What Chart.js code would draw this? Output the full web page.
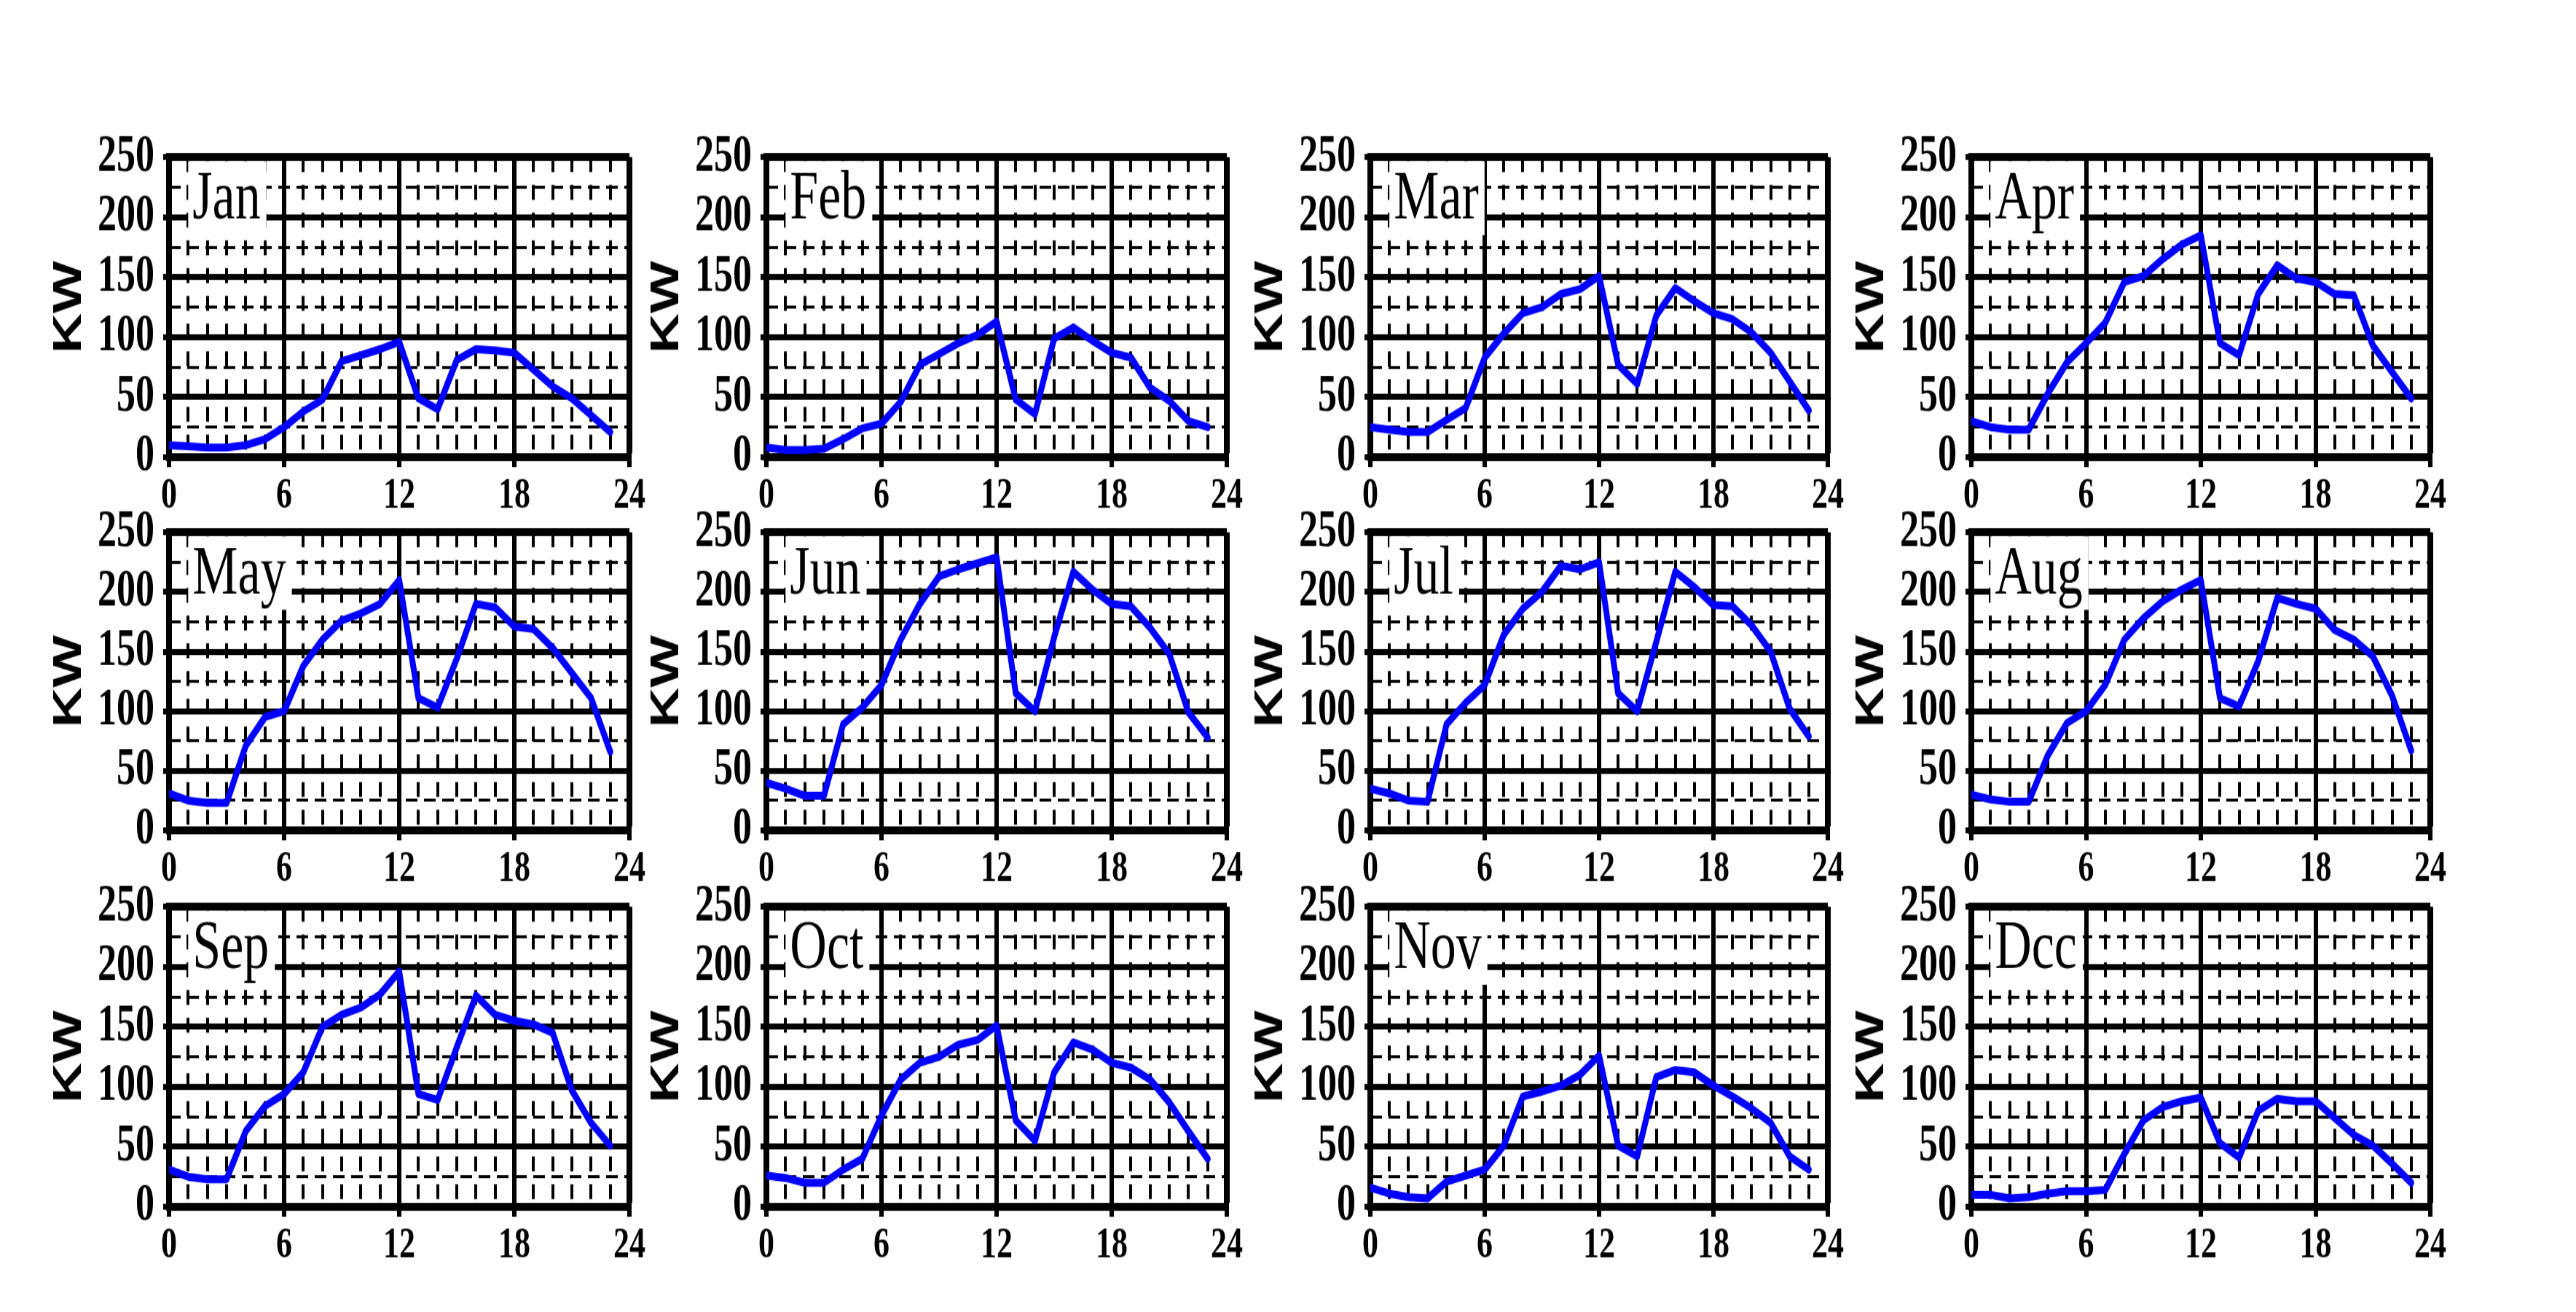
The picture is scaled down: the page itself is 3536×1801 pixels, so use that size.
<!DOCTYPE html>
<html>
<head>
<meta charset="utf-8">
<title>Daily load curves by month</title>
<script src="https://cdn.jsdelivr.net/npm/chart.js@4.4.0/dist/chart.umd.min.js"></script>
<style>
  html, body { margin: 0; padding: 0; background: #fff; }
  body { width: 3536px; height: 1801px; position: relative; overflow: hidden; }
  .panel { position: absolute; transform-origin: 0 0; }
  .panel canvas { display: block; }
</style>
</head>
<body>
<script>
// hourly load (KW)
const hours = [0, 1, 2, 3, 4, 5, 6, 7, 8, 9, 10, 11, 12, 13, 14, 15, 16, 17, 18, 19, 20, 21, 22, 23];
const months = ['Jan', 'Feb', 'Mar', 'Apr', 'May', 'Jun', 'Jul', 'Aug', 'Sep', 'Oct', 'Nov', 'Dcc'];
const xTicks = [0, 6, 12, 18, 24];
const yTicks = [0, 50, 100, 150, 200, 250];

const jan = [10, 9, 8, 8, 10, 15, 25, 38, 48, 80, 85, 90, 96, 49, 40, 81, 90, 89, 87, 73, 59, 49, 35, 21];
const feb = [8, 6, 6, 7, 15, 24, 28, 46, 77, 86, 95, 102, 113, 48, 36, 99, 108, 97, 87, 83, 58, 47, 30, 25];
const mar = [25, 23, 21, 21, 31, 41, 83, 103, 120, 125, 136, 140, 151, 77, 61, 118, 141, 130, 120, 115, 104, 87, 63, 39];
const apr = [30, 25, 23, 23, 53, 79, 95, 112, 146, 151, 165, 177, 185, 95, 85, 136, 160, 149, 146, 136, 135, 93, 71, 49];
const may = [31, 25, 23, 23, 71, 95, 100, 138, 160, 176, 182, 190, 210, 111, 103, 144, 190, 187, 171, 169, 153, 132, 111, 66];
const jun = [40, 35, 29, 29, 89, 103, 122, 160, 190, 213, 219, 224, 229, 115, 100, 162, 217, 202, 190, 188, 170, 148, 99, 78];
const jul = [35, 31, 25, 24, 89, 107, 122, 164, 186, 200, 222, 219, 225, 115, 100, 158, 217, 204, 189, 188, 172, 150, 102, 79];
const aug = [30, 26, 24, 24, 63, 90, 100, 122, 160, 178, 192, 202, 210, 111, 104, 142, 195, 190, 186, 168, 160, 146, 113, 67];
const sep = [31, 25, 23, 23, 63, 84, 94, 112, 150, 160, 166, 177, 196, 94, 89, 133, 176, 160, 155, 152, 145, 97, 70, 51];
const oct = [26, 24, 20, 20, 31, 40, 76, 106, 120, 125, 135, 139, 151, 72, 55, 112, 137, 131, 120, 116, 106, 87, 63, 40];
const nov = [16, 11, 8, 7, 21, 26, 31, 51, 92, 96, 101, 110, 126, 51, 42, 108, 114, 112, 101, 92, 82, 70, 42, 31];
const dec = [10, 10, 7, 8, 11, 13, 13, 14, 44, 72, 83, 88, 91, 53, 41, 80, 90, 88, 88, 74, 60, 51, 36, 20];
const loads = [jan, feb, mar, apr, may, jun, jul, aug, sep, oct, nov, dec];

// page layout (final pixels); the original figure is stretched vertically
const colLeft = [232, 1052, 1881, 2706];
const colWidth = [632, 632, 628, 630];
const rowTop = [203, 718, 1232];
const rowHeight = [424, 422, 424];
const STRETCH = 1.36;
const LEFT_SPACE = 170;
const RIGHT_SPACE = 40;
const TOP_SPACE = 34;
const BOTTOM_SPACE = 80;

// white box with the month name in the top-left corner
const monthBox = {
    id: 'monthBox',
    beforeDatasetsDraw(chart, args, opts) {
        const ctx = chart.ctx;
        const x = chart.scales.x;
        const y = chart.scales.y;
        ctx.save();
        ctx.font = '70px "Liberation Serif"';
        const tw = ctx.measureText(opts.text).width;
        const left = x.getPixelForValue(1);
        const top = y.getPixelForValue(250) + 4;
        const bottom = y.getPixelForValue(185);
        ctx.fillStyle = '#fff';
        ctx.fillRect(left, top, tw + 14, bottom - top);
        ctx.fillStyle = '#000';
        ctx.textBaseline = 'alphabetic';
        ctx.fillText(opts.text, left + 6, y.getPixelForValue(199));
        ctx.restore();
    }
};

function makePanel(i) {
    const r = Math.floor(i / 4);
    const c = i % 4;
    const cw = LEFT_SPACE + colWidth[c] + RIGHT_SPACE;
    const ch = Math.round(TOP_SPACE + rowHeight[r] / STRETCH + BOTTOM_SPACE);

    const div = document.createElement('div');
    div.className = 'panel';
    div.style.left = (colLeft[c] - LEFT_SPACE) + 'px';
    div.style.top = (rowTop[r] - TOP_SPACE * STRETCH) + 'px';
    div.style.width = cw + 'px';
    div.style.height = ch + 'px';
    div.style.transform = 'scaleY(' + STRETCH + ')';
    const canvas = document.createElement('canvas');
    canvas.width = cw;
    canvas.height = ch;
    div.appendChild(canvas);
    document.body.appendChild(div);

    new Chart(canvas, {
        type: 'line',
        data: {
            datasets: [{
                data: hours.map((h, k) => ({ x: h, y: loads[i][k] })),
                xAxisID: 'x',
                yAxisID: 'y',
                borderColor: '#0000ff',
                borderWidth: 8,
                borderJoinStyle: 'round',
                borderCapStyle: 'round',
                pointRadius: 0,
                tension: 0,
                fill: false
            }]
        },
        options: {
            responsive: false,
            animation: false,
            devicePixelRatio: 1,
            layout: { padding: { top: TOP_SPACE, right: RIGHT_SPACE, left: 0, bottom: 0 } },
            plugins: {
                legend: { display: false },
                tooltip: { enabled: false },
                monthBox: { text: months[i] }
            },
            scales: {
                x: {
                    type: 'linear',
                    min: 0,
                    max: 24,
                    position: 'bottom',
                    afterBuildTicks: s => { s.ticks = xTicks.map(v => ({ value: v })); },
                    afterFit: s => { s.height = BOTTOM_SPACE; },
                    ticks: {
                        font: { family: 'Liberation Serif', weight: 'bold', size: 44 },
                        color: '#000',
                        padding: 3,
                        maxRotation: 0,
                        autoSkip: false
                    },
                    grid: {
                        color: '#000',
                        lineWidth: ctx => (ctx.tick && ctx.tick.value === 24 ? 8 : 6),
                        tickLength: 10,
                        tickWidth: 6,
                        tickColor: '#000'
                    },
                    border: { color: '#000', width: 8 }
                },
                xMinor: {
                    type: 'linear',
                    axis: 'x',
                    min: 0,
                    max: 24,
                    position: 'bottom',
                    afterFit: s => { s.height = 0; },
                    ticks: { display: false, stepSize: 1, autoSkip: false },
                    grid: { color: '#000', lineWidth: 4, drawTicks: false },
                    border: { display: false, dash: [15, 13] }
                },
                y: {
                    type: 'linear',
                    min: 0,
                    max: 250,
                    position: 'left',
                    afterBuildTicks: s => { s.ticks = yTicks.map(v => ({ value: v })); },
                    afterFit: s => { s.width = LEFT_SPACE; },
                    ticks: {
                        font: { family: 'Liberation Serif', weight: 'bold', size: 52 },
                        color: '#000',
                        padding: 12,
                        autoSkip: false
                    },
                    title: {
                        display: true,
                        text: 'KW',
                        color: '#000',
                        padding: 0,
                        font: { family: 'Liberation Sans', weight: 'bold', size: 56 }
                    },
                    grid: {
                        color: '#000',
                        lineWidth: ctx => (ctx.tick && ctx.tick.value === 250 ? 8 : 6),
                        tickLength: 8,
                        tickWidth: 6,
                        tickColor: '#000'
                    },
                    border: { color: '#000', width: 8 }
                },
                yMinor: {
                    type: 'linear',
                    axis: 'y',
                    min: 0,
                    max: 250,
                    position: 'left',
                    afterFit: s => { s.width = 0; },
                    ticks: { display: false, stepSize: 25, autoSkip: false },
                    grid: { color: '#000', lineWidth: 3, drawTicks: false },
                    border: { display: false, dash: [16, 9] }
                }
            }
        },
        plugins: [monthBox]
    });
}

document.addEventListener('DOMContentLoaded', function() {
    for (let i = 0; i < 12; i++) {
        makePanel(i);
    }
});
</script>
</body>
</html>
